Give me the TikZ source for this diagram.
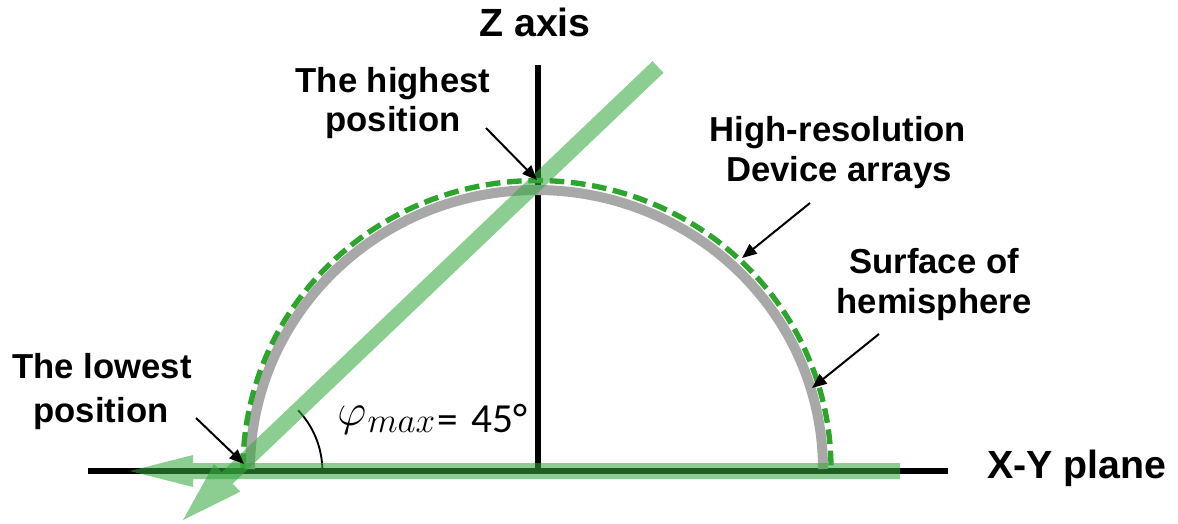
\documentclass[tikz,border=0pt]{standalone}
\usepackage{graphicx}
\usepackage{fontspec}
\setmainfont{Liberation Sans}
\newfontfamily\calib{Carlito}
\usetikzlibrary{arrows.meta}
\definecolor{beam}{RGB}{53,167,61}
\definecolor{arcgray}{RGB}{168,168,168}
\definecolor{dashgreen}{RGB}{45,165,45}
\begin{document}
\begin{tikzpicture}[x=0.75pt,y=-0.75pt,
  lbl/.style={font=\fontsize{26}{30}\selectfont\bfseries, anchor=base, inner sep=0pt},
  biglbl/.style={font=\fontsize{29.5}{34}\selectfont\bfseries, anchor=base, inner sep=0pt},
  axisline/.style={line width=3.8pt, black},
  pointer/.style={line width=1.5pt, black, -{Triangle[length=11pt,width=9pt]}},
  beamfill/.style={fill=beam, fill opacity=0.57},
]
\useasboundingbox (0,0) rectangle (1178,524);

% axes
\coordinate (xl) at (88,471);
\coordinate (xr) at (948,471);
\coordinate (zt) at (538,65);
\coordinate (zb) at (538,471);
\draw[axisline] (xl) -- (xr);
\draw[axisline] (zt) -- (zb);

% hemisphere surface and device arrays
\draw[arcgray, line width=7.5pt] plot[domain=180:0, samples=150] ({536.5+286.5*cos(\x)},{469-279*sin(\x)});
\draw[dashgreen, line width=4pt, dash pattern=on 11pt off 5pt] plot[domain=180:0, samples=150] ({537+294*cos(\x)},{468-287.5*sin(\x)});

% angle arc
\draw[line width=1.4pt] plot[domain=0:43.6, samples=40] ({234.4+88*cos(\x)},{471-88*sin(\x)});

% beams
\fill[beamfill] (900,463) -- (193,463) -- (193,455) -- (130,471) -- (193,487) -- (193,479) -- (900,479) -- cycle;
\fill[beamfill] (652.5,61.2) -- (221.7,472.1) -- (214.1,464.1) -- (183,520) -- (240.3,491.7) -- (232.7,483.7) -- (663.5,72.8) -- cycle;

% labels
\node[biglbl] (zlab) at (535,37) {Z axis};
\node[biglbl, anchor=base west] (xylab) at (987,478) {X-Y plane};
\node[lbl] (hi1) at (393,93) {The highest};
\node[lbl] (hi2) at (393,132) {position};
\node[lbl] (lo1) at (102,378) {The lowest};
\node[lbl] (lo2) at (101,422) {position};
\node[lbl] (dev1) at (838,142) {High-resolution};
\node[lbl] (dev2) at (839,182) {Device arrays};
\node[lbl] (sur1) at (934,273) {Surface of};
\node[lbl] (sur2) at (934,313) {hemisphere};
\node[anchor=base west, inner sep=0pt] (phi) at (337,432) {\fontsize{24.88}{30}\selectfont\raisebox{5pt}{\scalebox{1.36}{$\varphi$}}\hspace{1pt}\scalebox{1.06}{$max$}\hspace{2pt}{\calib\fontsize{31}{36}\selectfont\raisebox{-1pt}{=}\hspace{10pt}45°}};

% pointers
\coordinate (hiS) at (486,128);  \coordinate (hiT) at (537,180);
\coordinate (loS) at (196,418);  \coordinate (loT) at (244,464);
\coordinate (devS) at (810,203); \coordinate (devT) at (742,258);
\coordinate (surS) at (879,334); \coordinate (surT) at (812,388);
\draw[pointer] (hiS) -- (hiT);
\draw[pointer] (loS) -- (loT);
\draw[pointer] (devS) -- (devT);
\draw[pointer] (surS) -- (surT);
\end{tikzpicture}
\end{document}
